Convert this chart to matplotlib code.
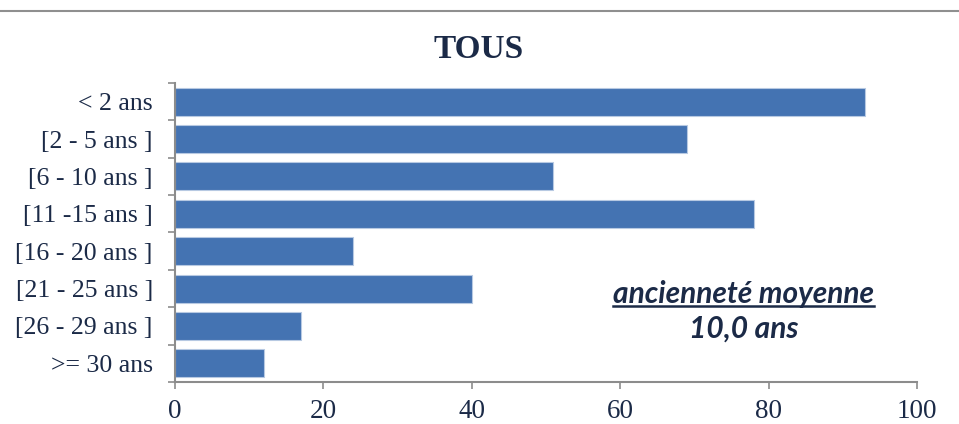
import matplotlib
matplotlib.use("Agg")
import matplotlib.pyplot as plt
import matplotlib.ticker as ticker
from matplotlib.lines import Line2D
import numpy as np

# Data
categories = ["< 2 ans", "[2 - 5 ans ]", "[6 - 10 ans ]", "[11 -15 ans ]",
              "[16 - 20 ans ]", "[21 - 25 ans ]", "[26 - 29 ans ]", ">= 30 ans"]
values = [93, 69, 51, 78, 24, 40, 17, 12]
x_ticks = [0, 20, 40, 60, 80, 100]
title = "TOUS"
note_line1 = "ancienneté moyenne"
note_line2 = "10,0 ans"

text_color = "#1b2a47"
bar_color = "#4473b2"
axis_gray = "#8c8c8c"

plt.rcParams.update({
    "font.family": "serif",
    "font.serif": ["Liberation Serif", "DejaVu Serif"],
})

fig = plt.figure(figsize=(9.59, 4.24), dpi=100)
ax = fig.add_axes([175 / 959, 1 - 382 / 424, (917 - 175) / 959, (382 - 83) / 424])

y = np.arange(len(categories))
ax.barh(y, values, height=0.75, color=bar_color, edgecolor="#b7c9e2", linewidth=0.8)

ax.set_xlim(0, 100)
ax.set_ylim(len(categories) - 0.5, -0.5)

# x axis
ax.xaxis.set_major_locator(ticker.FixedLocator(x_ticks))
ax.tick_params(axis="x", direction="out", length=5, width=1.2, color=axis_gray,
               labelsize=19.5, labelcolor=text_color, pad=7)

# y axis: labels at centres, tick marks at boundaries
ax.set_yticks(y)
ax.set_yticklabels(categories)
ax.yaxis.set_minor_locator(ticker.FixedLocator(np.arange(-0.5, len(categories), 1.0)))
ax.tick_params(axis="y", which="major", length=0, labelsize=18.5,
               labelcolor=text_color, pad=16)
ax.tick_params(axis="y", which="minor", direction="out", length=5, width=1.2,
               color=axis_gray)

for side in ["top", "right"]:
    ax.spines[side].set_visible(False)
for side in ["left", "bottom"]:
    ax.spines[side].set_color(axis_gray)
    ax.spines[side].set_linewidth(1.5)

# Title
fig.text(479 / 959, 1 - 50 / 424, title, ha="center", va="center",
         fontsize=24, fontweight="bold", color=text_color)

# Annotation (underlined first line)
t1 = ax.text(0.766, 0.295, note_line1, transform=ax.transAxes, ha="center", va="center",
             fontsize=21.5, fontweight="bold", style="italic", color=text_color,
             family="Lato")
ax.text(0.766, 0.18, note_line2, transform=ax.transAxes, ha="center", va="center",
        fontsize=21.5, fontweight="bold", style="italic", color=text_color,
        family="Lato")

fig.canvas.draw()
bb = t1.get_window_extent().transformed(fig.transFigure.inverted())
fig.add_artist(Line2D([bb.x0, bb.x1], [bb.y0 + 0.004, bb.y0 + 0.004],
                      transform=fig.transFigure, color=text_color, linewidth=1.8))

# Top grey border line
fig.add_artist(Line2D([0, 1], [1 - 11 / 424, 1 - 11 / 424], transform=fig.transFigure,
                      color="#8f8f8f", linewidth=1.5))

fig.savefig("out.png", dpi=100)
